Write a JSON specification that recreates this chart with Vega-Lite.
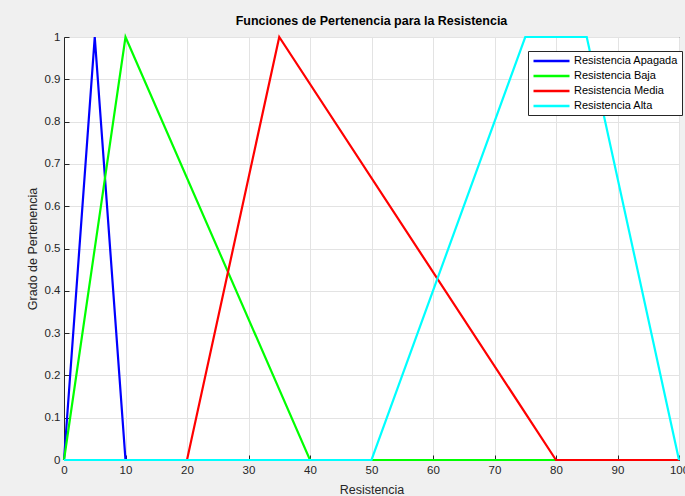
{
  "$schema": "https://vega.github.io/schema/vega-lite/v6.json",
  "autosize": "none",
  "width": 615,
  "height": 423,
  "padding": {"left": 64, "top": 37, "right": 6, "bottom": 36},
  "background": "#f0f0f0",
  "title": {"text": "Funciones de Pertenencia para la Resistencia", "font": "Liberation Sans", "fontSize": 12.5, "fontWeight": "bold", "color": "#000000", "offset": 4, "anchor": "middle"},
  "config": {
    "view": {"fill": "white", "stroke": "#262626", "strokeWidth": 1},
    "axis": {"labelFont": "Liberation Sans", "titleFont": "Liberation Sans", "labelFontSize": 11.5, "titleFontSize": 12.5, "labelColor": "#262626", "titleColor": "#262626", "titleFontWeight": "normal", "gridColor": "#e3e3e3", "gridWidth": 1, "domainColor": "#262626", "tickColor": "#262626", "tickSize": -5, "labelPadding": 9}
  },
  "datasets": {
    "apagada": [
      {"x": 0, "y": 0, "serie": "Resistencia Apagada"},
      {"x": 5, "y": 1, "serie": "Resistencia Apagada"},
      {"x": 10, "y": 0, "serie": "Resistencia Apagada"},
      {"x": 100, "y": 0, "serie": "Resistencia Apagada"}
    ],
    "baja": [
      {"x": 0, "y": 0, "serie": "Resistencia Baja"},
      {"x": 10, "y": 1, "serie": "Resistencia Baja"},
      {"x": 40, "y": 0, "serie": "Resistencia Baja"},
      {"x": 100, "y": 0, "serie": "Resistencia Baja"}
    ],
    "media": [
      {"x": 0, "y": 0, "serie": "Resistencia Media"},
      {"x": 20, "y": 0, "serie": "Resistencia Media"},
      {"x": 35, "y": 1, "serie": "Resistencia Media"},
      {"x": 80, "y": 0, "serie": "Resistencia Media"},
      {"x": 100, "y": 0, "serie": "Resistencia Media"}
    ],
    "alta": [
      {"x": 0, "y": 0, "serie": "Resistencia Alta"},
      {"x": 50, "y": 0, "serie": "Resistencia Alta"},
      {"x": 75, "y": 1, "serie": "Resistencia Alta"},
      {"x": 85, "y": 1, "serie": "Resistencia Alta"},
      {"x": 100, "y": 0, "serie": "Resistencia Alta"}
    ]
  },
  "encoding": {
    "x": {"field": "x", "type": "quantitative", "scale": {"domain": [0, 100], "nice": false}, "axis": {"title": "Resistencia", "values": [0,10,20,30,40,50,60,70,80,90,100], "titleY": 23, "labelFlush": false}},
    "y": {"field": "y", "type": "quantitative", "scale": {"domain": [0, 1], "nice": false}, "axis": {"title": "Grado de Pertenencia", "values": [0,0.1,0.2,0.3,0.4,0.5,0.6,0.7,0.8,0.9,1], "format": "~g", "titleX": -25, "labelFlush": false}},
    "color": {"field": "serie", "type": "nominal",
      "scale": {"domain": ["Resistencia Apagada", "Resistencia Baja", "Resistencia Media", "Resistencia Alta"], "range": ["#0000ff", "#00ff00", "#ff0000", "#00ffff"]},
      "legend": {"title": null, "orient": "none", "legendX": 464, "legendY": 14, "symbolType": "M-1,0H7", "symbolSize": 81, "symbolStrokeWidth": 2.5, "labelFont": "Liberation Sans", "labelFontSize": 11, "labelColor": "#000000", "fillColor": "white", "strokeColor": "#262626", "padding": 4, "rowPadding": 4, "labelOffset": 30}
    }
  },
  "layer": [
    {"data": {"name": "apagada"}, "mark": {"type": "line", "strokeWidth": 2.2}},
    {"data": {"name": "baja"}, "mark": {"type": "line", "strokeWidth": 2.2}},
    {"data": {"name": "media"}, "mark": {"type": "line", "strokeWidth": 2.2}},
    {"data": {"name": "alta"}, "mark": {"type": "line", "strokeWidth": 2.2}}
  ]
}
